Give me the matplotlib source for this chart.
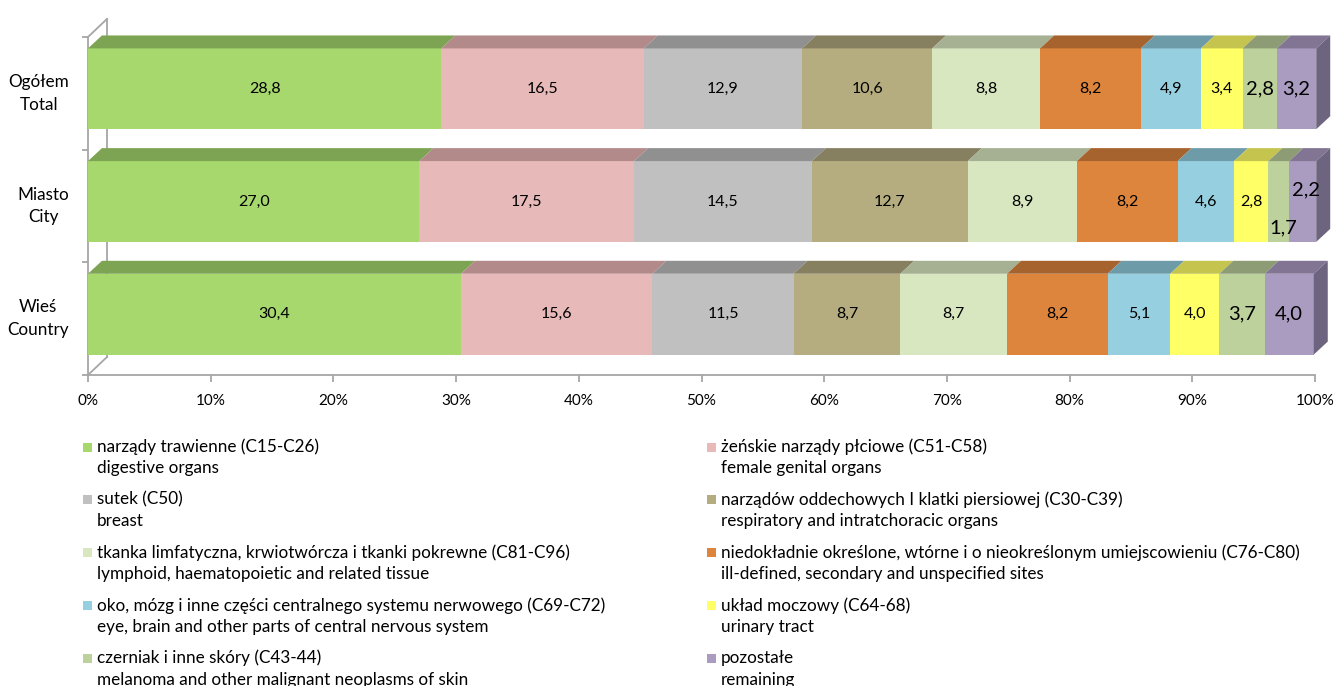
import numpy as np
import matplotlib
matplotlib.use('Agg')
import matplotlib.pyplot as plt
from matplotlib.patches import Polygon, Rectangle

plt.rcParams['font.family'] = ['Lato', 'DejaVu Sans']

# data
groups = ['Ogółem\nTotal', 'Miasto\nCity', 'Wieś\nCountry']
series_pl = ['narządy trawienne (C15-C26)',
             'żeńskie narządy płciowe (C51-C58)',
             'sutek (C50)',
             'narządów oddechowych I klatki piersiowej (C30-C39)',
             'tkanka limfatyczna, krwiotwórcza i tkanki pokrewne (C81-C96)',
             'niedokładnie określone, wtórne i o nieokreślonym umiejscowieniu (C76-C80)',
             'oko, mózg i inne części centralnego systemu nerwowego (C69-C72)',
             'układ moczowy (C64-68)',
             'czerniak i inne skóry (C43-44)',
             'pozostałe']
series_en = ['digestive organs',
             'female genital organs',
             'breast',
             'respiratory and intratchoracic organs',
             'lymphoid, haematopoietic and related tissue',
             'ill-defined, secondary and unspecified sites',
             'eye, brain and other parts of central nervous system',
             'urinary tract',
             'melanoma and other malignant neoplasms of skin',
             'remaining']
total = [28.8, 16.5, 12.9, 10.6, 8.8, 8.2, 4.9, 3.4, 2.8, 3.2]
city = [27.0, 17.5, 14.5, 12.7, 8.9, 8.2, 4.6, 2.8, 1.7, 2.2]
country = [30.4, 15.6, 11.5, 8.7, 8.7, 8.2, 5.1, 4.0, 3.7, 4.0]
values = [total, city, country]
xticks = np.arange(0, 101, 10)

front = ['#A6D86E', '#E8B9B9', '#C0C0C0', '#B5AD7F', '#D9E7C1',
         '#DE853D', '#96CFE0', '#FFFF66', '#BCD19B', '#AA9CC1']
top = ['#7DA452', '#B38A8A', '#909090', '#878060', '#A6B093',
       '#A7632E', '#6E9BA8', '#C4C44E', '#8D9C74', '#817593']
side_col = '#6D6480'
axis_col = '#A6A6A6'

fig = plt.figure(figsize=(13.38, 6.86), dpi=100)
W, H = 1338, 686
ax = fig.add_axes([88 / W, 1 - 375 / H, (1315 - 88) / W, 360 / H])
ax.set_xlim(0, 100)
ax.set_ylim(2.5, -0.695)

bar_h = 0.717
yoff = -0.04
ddx, ddy = 1.14, 0.115
wdx, wdy = 1.55, 0.16

# walls / axes lines
ax.plot([0, 100], [2.5, 2.5], color=axis_col, lw=1.3, clip_on=False)
ax.plot([0, 0], [-0.5, 2.5], color=axis_col, lw=1.3, clip_on=False)
ax.plot([wdx, wdx], [-0.5 - wdy, 2.5 - wdy], color=axis_col, lw=1.3, clip_on=False)
ax.plot([0, wdx], [-0.5, -0.5 - wdy], color=axis_col, lw=1.3, clip_on=False)
ax.plot([0, wdx], [2.5, 2.5 - wdy], color=axis_col, lw=1.3, clip_on=False)

for i, vals in enumerate(values):
    yc = i + yoff
    yt = yc - bar_h / 2
    yb = yc + bar_h / 2
    lefts = np.concatenate([[0], np.cumsum(vals)[:-1]])
    ax.barh(yc, vals, left=lefts, height=bar_h, color=front, zorder=3, clip_on=False)
    for j, (l, v) in enumerate(zip(lefts, vals)):
        r = l + v
        ax.add_patch(Polygon([(l, yt), (l + ddx, yt - ddy), (r + ddx, yt - ddy), (r, yt)],
                             closed=True, facecolor=top[j], edgecolor='none', zorder=3,
                             clip_on=False))
        lbl = ('%.1f' % v).replace('.', ',')
        big = j >= 8
        tx, ty = l + v / 2, yc
        if i == 1 and j == 8:
            tx, ty = tx + 0.4, yc + 0.23
        if i == 1 and j == 9:
            tx, ty = tx + 0.3, yc - 0.1
        ax.text(tx, ty, lbl, ha='center', va='center', fontsize=14.5 if big else 11.5,
                color='black', zorder=5)
    r = lefts[-1] + vals[-1]
    ax.add_patch(Polygon([(r, yb), (r + ddx, yb - ddy), (r + ddx, yt - ddy), (r, yt)],
                         closed=True, facecolor=side_col, edgecolor='none', zorder=3,
                         clip_on=False))

for s in ax.spines.values():
    s.set_visible(False)
ax.set_xticks(xticks)
ax.set_xticklabels(['%d%%' % t for t in xticks], fontsize=11)
ax.tick_params(axis='x', length=5, width=1.3, color=axis_col, pad=9)
ax.set_yticks([-0.5, 0.5, 1.5, 2.5])
ax.set_yticklabels([])
ax.tick_params(axis='y', length=4, width=1.3, color=axis_col)
for i, g in enumerate(groups):
    ax.text(-0.0155, i, g, transform=ax.get_yaxis_transform(), ha='right', va='center',
            multialignment='center', fontsize=12.3, linespacing=1.5)

# legend
for k in range(len(series_pl)):
    col, row = k % 2, k // 2
    xs = 83 if col == 0 else 707
    y1 = 447 + row * 52.8
    fig.add_artist(Rectangle((xs / W, 1 - (y1 + 4.5) / H), 9 / W, 9 / H,
                             facecolor=front[k], edgecolor='none', transform=fig.transFigure))
    fig.text((xs + 14) / W, 1 - y1 / H, series_pl[k], ha='left', va='center', fontsize=12.3)
    fig.text((xs + 14) / W, 1 - (y1 + 21.5) / H, series_en[k], ha='left', va='center', fontsize=12.3)

fig.savefig('out.png', dpi=100)
